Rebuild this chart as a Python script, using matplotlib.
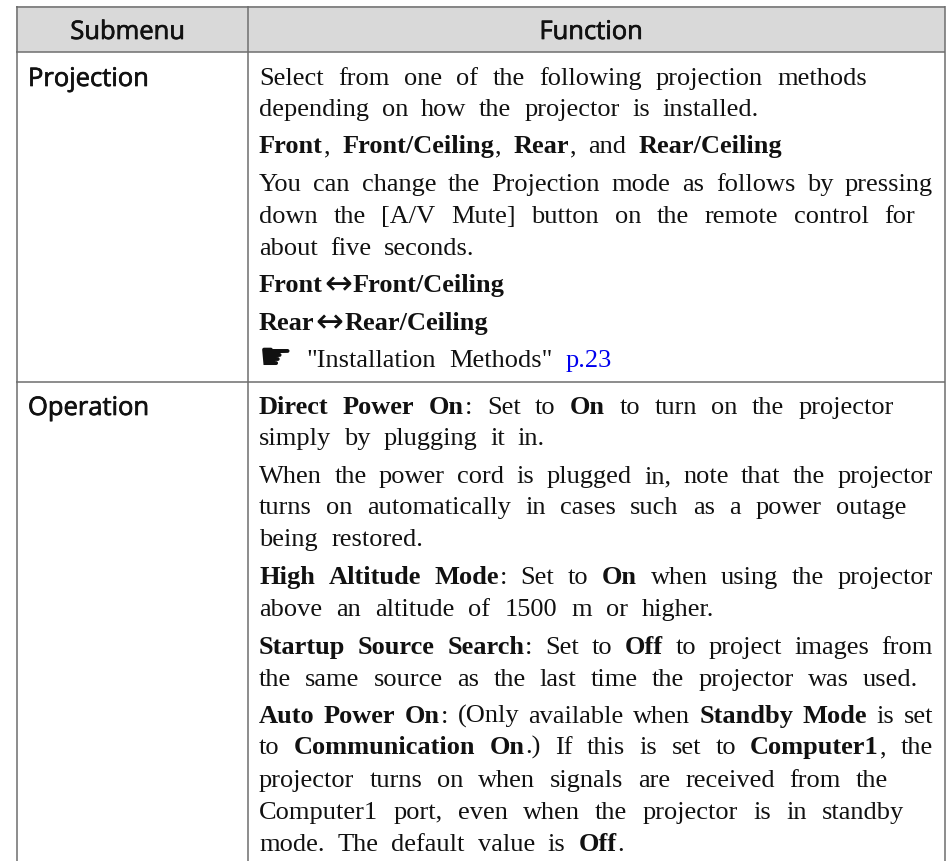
"""Submenu / Function table page."""
import matplotlib
matplotlib.use("Agg")
import matplotlib.pyplot as plt
import matplotlib.patheffects as pe

SERIF = ["Liberation Serif", "DejaVu Sans"]
SANS = ["Open Sans", "DejaVu Sans"]
SERIF_SIZE = 19.0
SANS_SIZE = 18.4
# glyphs drawn from DejaVu at their own size and baseline shift
SYMBOL_SIZE = {"↔": 24.0, "☛": 27.0}
SYMBOL_SHIFT = {"↔": 2.5, "☛": 2.0}

headers = ["Submenu", "Function"]
submenus = ["Projection", "Operation"]

# "*" toggles bold, "~" toggles blue
projection_lines = [
    "Select from one of the following projection methods",
    "depending on how the projector is installed.",
    "*Front*, *Front/Ceiling*, *Rear*, and *Rear/Ceiling*",
    "You can change the Projection mode as follows by pressing",
    "down the [A/V Mute] button on the remote control for",
    "about five seconds.",
    "*Front*↔*Front/Ceiling*",
    "*Rear*↔*Rear/Ceiling*",
    "☛ \"Installation Methods\" ~p.23~",
]
operation_lines = [
    "*Direct Power On*: Set to *On* to turn on the projector",
    "simply by plugging it in.",
    "When the power cord is plugged in, note that the projector",
    "turns on automatically in cases such as a power outage",
    "being restored.",
    "*High Altitude Mode*: Set to *On* when using the projector",
    "above an altitude of 1500 m or higher.",
    "*Startup Source Search*: Set to *Off* to project images from",
    "the same source as the last time the projector was used.",
    "*Auto Power On*: (Only available when *Standby Mode* is set",
    "to *Communication On*.) If this is set to *Computer1*, the",
    "projector turns on when signals are received from the",
    "Computer1 port, even when the projector is in standby",
    "mode. The default value is *Off*.",
]
projection_right = [868, 760, 783, 934, 916, 475, None, None, 613]
operation_right = [895, 546, 934, 907, 424, 934, 715, 934, 919, 934, 934, 889, 905, 625]
projection_base = [85, 116, 153, 191, 223, 255, 292, 330, 367]
operation_base = [414, 445, 483, 514, 546, 584, 616, 654, 686, 723, 754, 787, 819, 851]

fig = plt.figure(figsize=(9.51, 8.62), dpi=100)
ax = fig.add_axes([0, 0, 1, 1])
ax.set_xlim(0, 951)
ax.set_ylim(862, 0)
ax.axis("off")
renderer = fig.canvas.get_renderer()


def segments(line):
    """Split a marked up line into words, each a list of (text, bold, blue)."""
    words = []
    bold = blue = False
    for raw in line.split(" "):
        word, buf = [], ""
        for ch in raw:
            if ch in "*~" or ch in SYMBOL_SIZE:
                if buf:
                    word.append((buf, bold, blue))
                buf = ""
                if ch == "*":
                    bold = not bold
                elif ch == "~":
                    blue = not blue
                else:
                    word.append((ch, bold, blue))
            else:
                buf += ch
        if buf:
            word.append((buf, bold, blue))
        words.append(word)
    return words


def put(x, y, s, bold, blue):
    if s in SYMBOL_SIZE:
        return ax.text(x, y + SYMBOL_SHIFT[s], s, family="DejaVu Sans", fontsize=SYMBOL_SIZE[s],
                       va="baseline", ha="left", color="#111111")
    return ax.text(x, y, s, family=SERIF, fontsize=SERIF_SIZE, va="baseline", ha="left",
                   fontweight="bold" if bold else "normal",
                   color="#0000ee" if blue else "#111111")


def advance(s, bold):
    t = put(0, 0, s, bold, False)
    w = t.get_window_extent(renderer).width
    t.remove()
    return w + 1.0


def draw_line(line, y, x0, x1):
    words = segments(line)
    widths = [sum(advance(s, b) for s, b, _ in w) for w in words]
    gap = 0
    if x1 is not None and len(words) > 1:
        gap = (x1 - x0 - sum(widths)) / (len(words) - 1)
    x = x0
    for word, width in zip(words, widths):
        cx = x
        for s, b, c in word:
            put(cx, y, s, b, c)
            cx += advance(s, b)
        x += width + gap


ax.fill_between([16, 945], 7, 53, color="#d9d9d9", lw=0)
line_kw = dict(color="#6e6e6e", lw=1.1, solid_capstyle="butt")
ax.plot([16, 945], [7.5, 7.5], **line_kw)
ax.plot([16, 945], [53, 53], **line_kw)
ax.plot([16, 945], [383, 383], **line_kw)
ax.plot([16.5, 16.5], [7, 862], **line_kw)
ax.plot([247.5, 247.5], [7, 862], **line_kw)
ax.plot([944.5, 944.5], [7, 862], **line_kw)

stroke = [pe.withStroke(linewidth=0.5, foreground="#111111")]
sans_kw = dict(family=SANS, fontsize=SANS_SIZE, color="#111111", va="baseline", path_effects=stroke)
ax.text(127.5, 40, headers[0], ha="center", **sans_kw)
ax.text(591, 40, headers[1], ha="center", **sans_kw)
ax.text(28, 87, submenus[0], ha="left", **sans_kw)
ax.text(28, 416, submenus[1], ha="left", **sans_kw)

for line, r, y in zip(projection_lines, projection_right, projection_base):
    draw_line(line, y, 259, r)
for line, r, y in zip(operation_lines, operation_right, operation_base):
    draw_line(line, y, 259, r)

fig.savefig("out.png", dpi=100)
